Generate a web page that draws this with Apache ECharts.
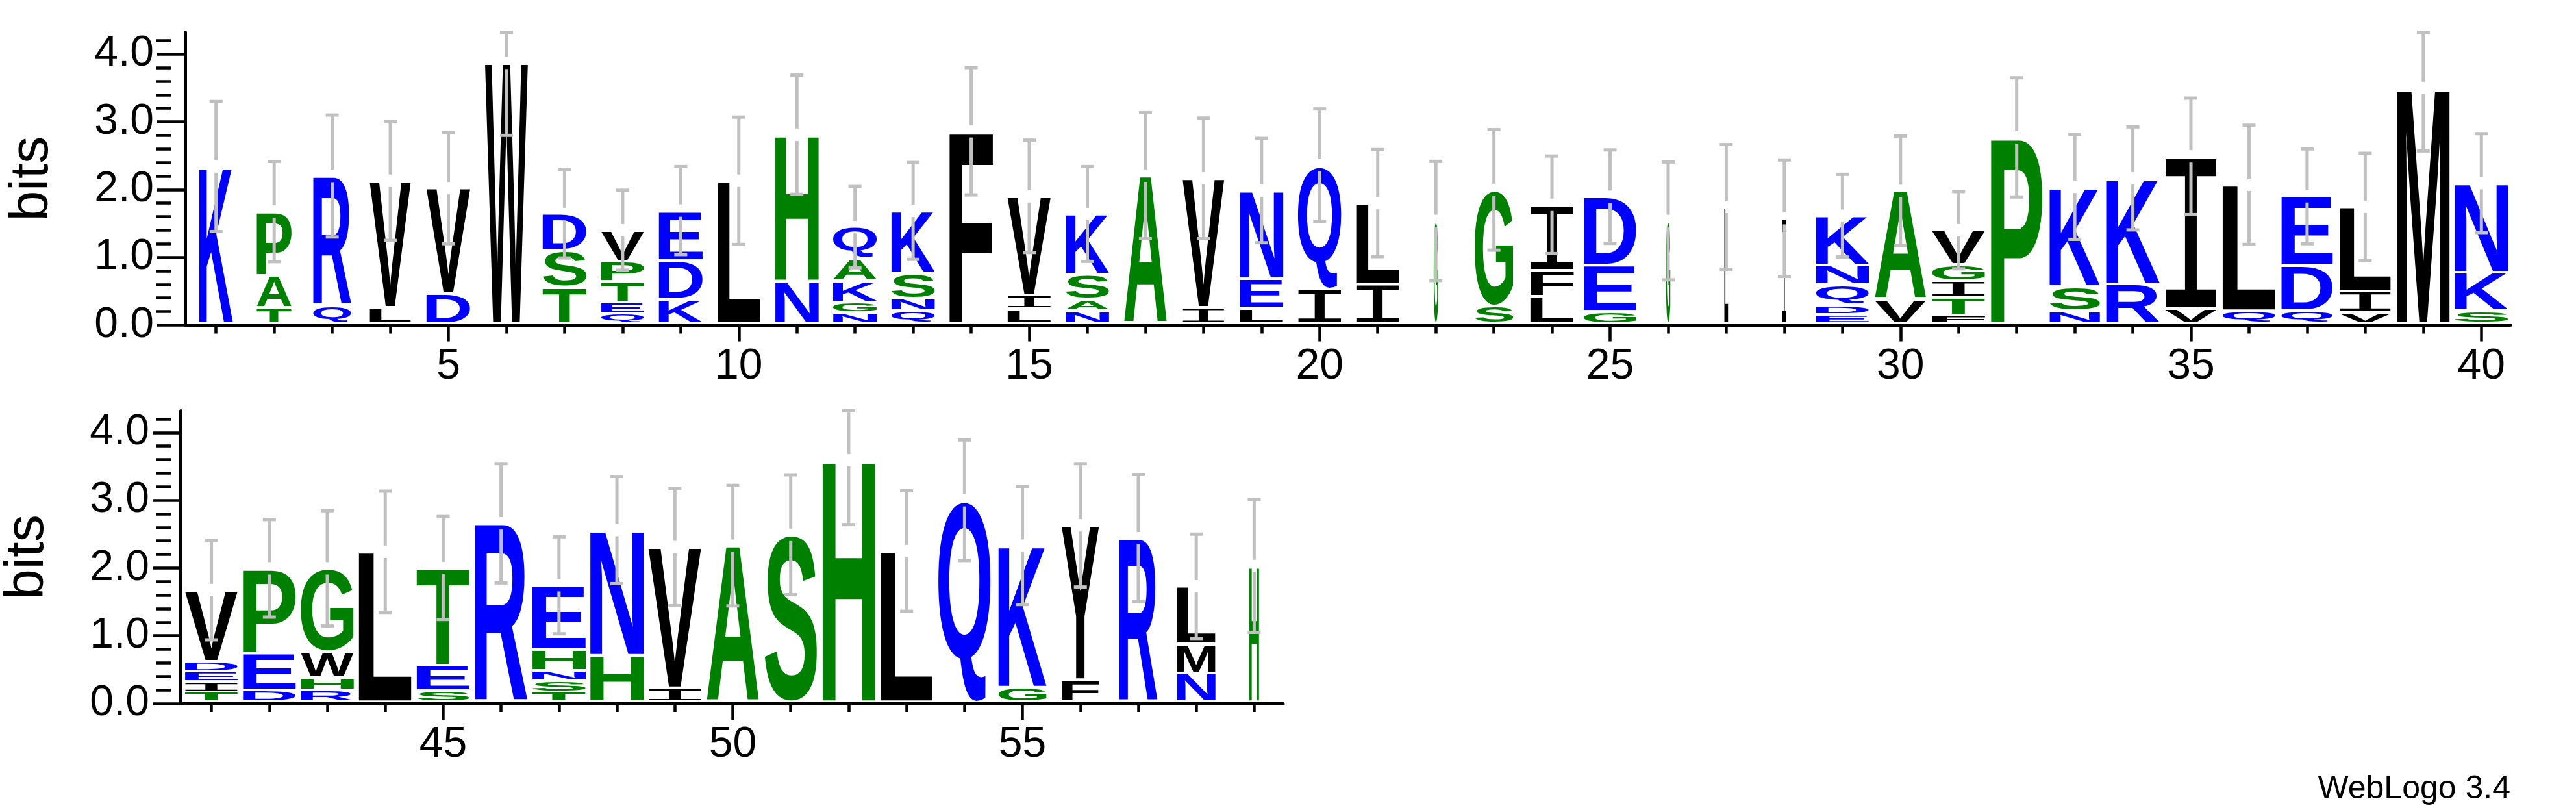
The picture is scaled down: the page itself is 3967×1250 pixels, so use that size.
<!DOCTYPE html>
<html><head><meta charset="utf-8">
<script src="https://cdn.jsdelivr.net/npm/echarts@6/dist/echarts.min.js"></script>
<style>html,body{margin:0;padding:0;background:#fff}#c{width:3967px;height:1250px}</style>
</head><body><div id="c"></div>
<script>
// ---------- data ----------
const positions = Array.from({length: 59}, (_, i) => i + 1);
// letters of each stack, bottom -> top
const stackLetters = [
  "K","TAP","QR","LV","DV","W","TSD","QETPV","KDE","L",
  "NH","NGKAQ","QNSK","F","LIV","NASK","A","IV","LEN","IQ",
  "IL","G","SG","LFI","GED","G","L","I","EDQNK","VA",
  "FTIGV","P","NSK","RK","VI","QL","QDE","VIL","M","SKN",
  "TIEDV","DEP","RHWG","L","SET","R","TSNHE","HN","IV","A",
  "S","H","L","Q","GK","FY","R","NML","H"
];
// information (bits) of each letter, bottom -> top
const stackHeights = [
  [2.34],[0.26,0.475,0.94],[0.29,1.91],[0.26,1.87],[0.47,1.55],[3.87],[0.56,0.54,0.54],[0.17,0.16,0.31,0.30,0.46],[0.385,0.57,0.735],[2.13],
  [0.65,2.16],[0.18,0.16,0.315,0.325,0.465],[0.21,0.185,0.375,0.915],[2.86],[0.24,0.205,1.455],[0.21,0.17,0.37,0.89],[2.205],[0.26,1.905],[0.25,0.435,1.30],[0.54,1.82],
  [0.61,1.19],[1.537],[0.28,1.715],[0.42,0.39,0.965],[0.2,0.68,1.015],[1.537],[1.744],[1.577],[0.16,0.14,0.295,0.29,0.73],[0.38,1.6],
  [0.15,0.26,0.24,0.24,0.51],[2.77],[0.21,0.36,1.47],[0.61,1.555],[0.25,2.24],[0.21,1.86],[0.21,0.67,1.02],[0.19,0.31,1.245],[3.50],[0.21,0.57,1.315],
  [0.17,0.15,0.15,0.155,1.05],[0.2,0.54,1.255],[0.2,0.18,0.385,1.23],[2.24],[0.19,0.375,1.435],[2.66],[0.17,0.165,0.155,0.315,0.94],[0.71,1.85],[0.23,2.08],[2.33],
  [2.49],[3.59],[2.25],[3.0],[0.24,2.09],[0.35,2.28],[2.44],[0.45,0.43,0.85],[2.03]
];
// error bar half-length (bits)
const errorBars = [
  0.96,0.74,0.90,0.88,0.82,1.07,0.65,0.59,0.65,0.94,
  0.88,0.60,0.715,0.94,0.83,0.70,0.93,0.89,0.77,0.83,
  0.79,0.88,0.89,0.72,0.69,0.87,0.92,0.86,0.61,0.81,
  0.57,0.88,0.775,0.76,0.86,0.88,0.70,0.79,0.93,0.73,
  0.735,0.72,0.85,0.895,0.76,0.88,0.716,0.79,0.866,0.89,
  0.885,0.95,0.89,0.89,0.87,0.91,0.94,0.77,0.98
];
// fraction of non-gap symbols in each column (stack width scale)
const columnWidths = [
  0.63,0.65,0.71,0.77,0.82,0.80,0.82,0.80,0.82,0.80,
  0.81,0.82,0.81,0.81,0.81,0.81,0.80,0.78,0.81,0.81,
  0.81,0.08,0.72,0.81,0.98,0.08,0.07,0.08,0.99,0.96,
  0.99,0.96,0.94,1.0,0.96,0.99,0.96,0.96,0.99,1.0,
  0.99,0.99,0.99,0.99,0.99,0.99,1.0,1.0,0.99,0.98,
  0.98,0.98,0.98,0.98,0.90,0.70,0.72,0.72,0.18
];
const yTickValues = [0, 1, 2, 3, 4];
const yMinorTickValues = [0.2,0.4,0.6,0.8,1.2,1.4,1.6,1.8,2.2,2.4,2.6,2.8,3.2,3.4,3.6,3.8,4.2];
const xLabelsRow1 = [5, 10, 15, 20, 25, 30, 35, 40];
const xLabelsRow2 = [45, 50, 55];
const YMAX = 4.32;
const ALPHABET = "ACDEFGHIKLMNPQRSTVWY";
const colorOf = {K:'#0000ff',R:'#0000ff',D:'#0000ff',E:'#0000ff',N:'#0000ff',Q:'#0000ff',
  P:'#008000',A:'#008000',H:'#008000',G:'#008000',S:'#008000',T:'#008000',C:'#008000',
  V:'#000000',W:'#000000',L:'#000000',F:'#000000',I:'#000000',M:'#000000',Y:'#000000'};

// ---------- glyph metrics ----------
const mctx = document.createElement('canvas').getContext('2d');
function fontFor(ch) { return ch === 'I' ? '200px "Liberation Mono"' : 'bold 200px "Liberation Sans"'; }
const metricCache = {};
function glyphMetrics(ch) {
  if (metricCache[ch]) return metricCache[ch];
  mctx.font = fontFor(ch); mctx.textBaseline = 'middle'; mctx.textAlign = 'left';
  const m = mctx.measureText(ch);
  return metricCache[ch] = {
    l: -m.actualBoundingBoxLeft, t: -m.actualBoundingBoxAscent,
    w: m.actualBoundingBoxLeft + m.actualBoundingBoxRight,
    h: m.actualBoundingBoxAscent + m.actualBoundingBoxDescent
  };
}

// ---------- build series data ----------
const letterData = [[], []], errData = [[], []];
positions.forEach((p, i) => {
  const row = p <= 40 ? 0 : 1;
  let acc = 0;
  stackLetters[i].split('').forEach((ch, k) => {
    const h = stackHeights[i][k];
    letterData[row].push([p, acc, acc + h, ALPHABET.indexOf(ch), columnWidths[i]]);
    acc += h;
  });
  errData[row].push([p, acc, errorBars[i]]);
});

const FULLW = 83 / 90, PAD = 2.2, BASEPAD = 2.5;
function renderLetter(params, api) {
  const pos = api.value(0), lo = api.value(1), hi = api.value(2);
  const ch = ALPHABET[api.value(3)], wf = api.value(4);
  const c0 = api.coord([pos, lo]), c1 = api.coord([pos, hi]);
  const unit = api.size([1, 0])[0];
  const w = wf * FULLW * unit;
  let yb = c0[1] - PAD - (lo === 0 ? BASEPAD : 0);
  let yt = c1[1] + PAD;
  if (yb - yt < 1) { const mid = (yb + yt) / 2; yb = mid + 0.5; yt = mid - 0.5; }
  const m = glyphMetrics(ch);
  const sx = w / m.w, sy = (yb - yt) / m.h;
  return {
    type: 'text', silent: true,
    x: c0[0] - w / 2 - m.l * sx, y: yt - m.t * sy, scaleX: sx, scaleY: sy,
    style: { text: ch, x: 0, y: 0, font: fontFor(ch), fill: colorOf[ch], align: 'left', verticalAlign: 'middle' }
  };
}
const GAP = 9.5, CAPW = 10, BAR = '#c0c0c0';
function renderErr(params, api) {
  const pos = api.value(0), top = api.value(1), err = api.value(2);
  const lowV = Math.max(0, top - err), upV = Math.min(YMAX, top + err);
  const ct = api.coord([pos, top]), cl = api.coord([pos, lowV]), cu = api.coord([pos, upV]);
  const x = ct[0];
  const st = { stroke: BAR, lineWidth: 5 };
  return {
    type: 'group', silent: true, children: [
      { type: 'line', shape: { x1: x, y1: cl[1], x2: x, y2: ct[1] + GAP }, style: st },
      { type: 'line', shape: { x1: x, y1: ct[1] - GAP, x2: x, y2: cu[1] }, style: st },
      { type: 'line', shape: { x1: x - CAPW, y1: cl[1], x2: x + CAPW, y2: cl[1] }, style: st },
      { type: 'line', shape: { x1: x - CAPW, y1: cu[1], x2: x + CAPW, y2: cu[1] }, style: st }
    ]
  };
}

// ---------- layout ----------
const BITPX = 104.3, H = YMAX * BITPX;
const zero1 = 500.4, zero2 = 1083;
const GRID_LEFT = 266, W1 = 3600, W2 = 1710;
const grids = [
  { left: GRID_LEFT, top: zero1 - H, width: W1, height: H },
  { left: GRID_LEFT, top: zero2 - H, width: W2, height: H }
];
const labelFont = { fontSize: 66, fontFamily: '"Liberation Sans", Arial, sans-serif', color: '#000' };
function xAxes(gi, min, max, labels) {
  const all = []; for (let v = Math.ceil(min); v <= max; v++) all.push(v);
  return [
    { type: 'value', gridIndex: gi, min, max, position: 'bottom', splitLine: { show: false },
      axisLine: { show: true, lineStyle: { color: '#000', width: 5 } },
      axisTick: { show: true, customValues: labels, length: 25, lineStyle: { color: '#000', width: 4.5 } },
      axisLabel: { show: true, customValues: labels, margin: 31, lineHeight: 66, ...labelFont } },
    { type: 'value', gridIndex: gi, min, max, position: 'bottom', splitLine: { show: false },
      axisLine: { show: false },
      axisTick: { show: true, customValues: all, length: 13, lineStyle: { color: '#000', width: 4.5 } },
      axisLabel: { show: false } }
  ];
}
function yAxes(gi, gridWidth) {
  return [
    { type: 'value', gridIndex: gi, min: 0, max: YMAX, offset: 3, position: 'left', splitLine: { show: false },
      name: 'bits', nameLocation: 'middle', nameGap: 193,
      nameTextStyle: { fontSize: 84, fontFamily: '"Liberation Sans", Arial, sans-serif', color: '#000' },
      axisLine: { show: true, lineStyle: { color: '#000', width: 5 } },
      axisTick: { show: true, customValues: yTickValues, length: 43, lineStyle: { color: '#000', width: 4.5 } },
      axisLabel: { show: true, customValues: yTickValues, margin: 48, formatter: v => Number(v).toFixed(1), ...labelFont } },
    // minor ticks: a second axis placed on the same vertical line (right-side axis moved left onto the left edge)
    { type: 'value', gridIndex: gi, min: 0, max: YMAX, position: 'right', offset: -(gridWidth + 3), splitLine: { show: false },
      axisLine: { show: false },
      axisTick: { show: true, inside: true, customValues: yMinorTickValues, length: 23, lineStyle: { color: '#000', width: 4.5 } },
      axisLabel: { show: false } }
  ];
}

const chart = echarts.init(document.getElementById('c'), null, { renderer: 'canvas' });
chart.setOption({
  animation: false,
  backgroundColor: '#fff',
  grid: grids,
  xAxis: [...xAxes(0, 0.5, 40.5, xLabelsRow1), ...xAxes(1, 40.5, 59.5, xLabelsRow2)],
  yAxis: [...yAxes(0, W1), ...yAxes(1, W2)],
  series: [
    { type: 'custom', xAxisIndex: 0, yAxisIndex: 0, data: letterData[0], renderItem: renderLetter, z: 2 },
    { type: 'custom', xAxisIndex: 2, yAxisIndex: 2, data: letterData[1], renderItem: renderLetter, z: 2 },
    { type: 'custom', xAxisIndex: 0, yAxisIndex: 0, data: errData[0], renderItem: renderErr, z: 3 },
    { type: 'custom', xAxisIndex: 2, yAxisIndex: 2, data: errData[1], renderItem: renderErr, z: 3 }
  ],
  graphic: [
    { type: 'text', x: 3866, y: 1215, silent: true,
      style: { text: 'WebLogo 3.4', font: '50px "Liberation Sans"', fill: '#000', align: 'right', verticalAlign: 'middle' } }
  ]
});
</script></body></html>
